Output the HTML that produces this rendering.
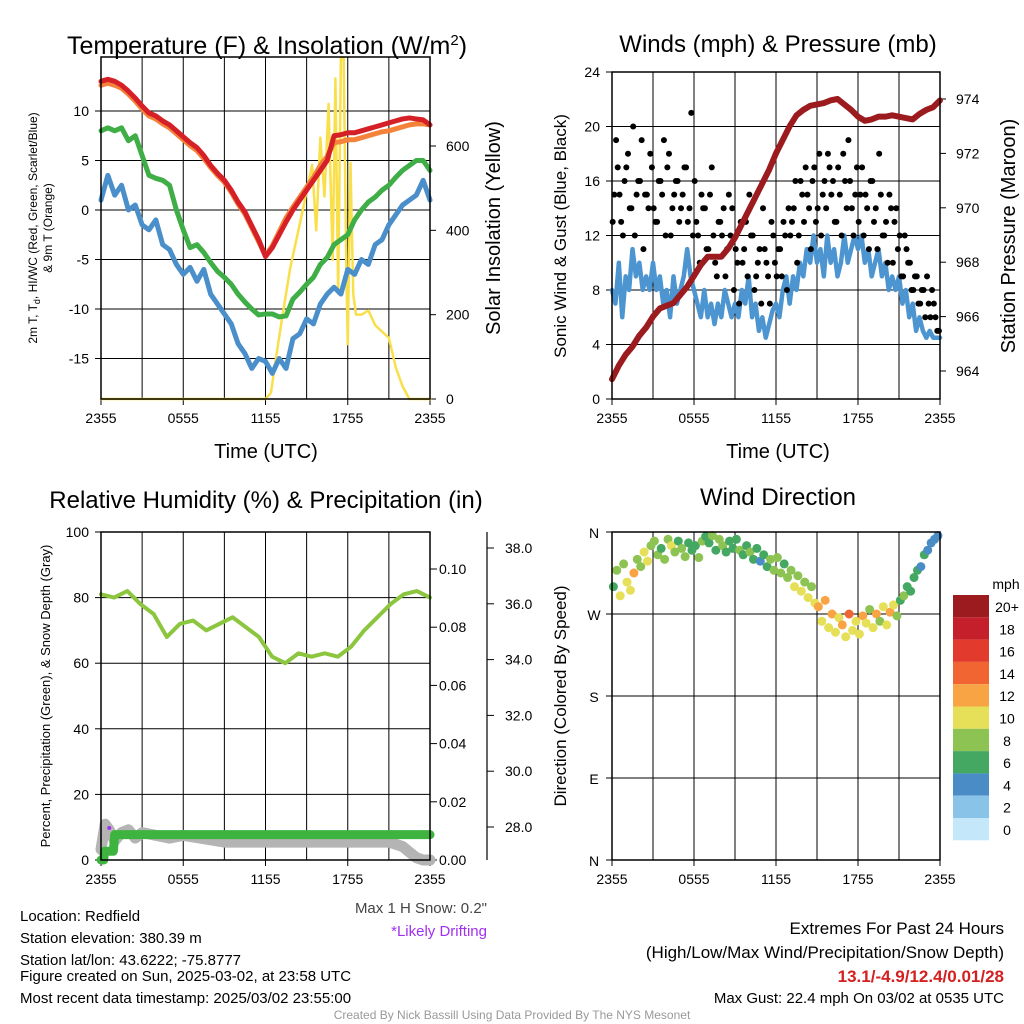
<!DOCTYPE html>
<html><head><meta charset="utf-8"><style>
body{margin:0;background:#fff;}
svg{display:block;font-family:"Liberation Sans",sans-serif;}
</style></head><body>
<svg id="c" width="1024" height="1024" viewBox="0 0 1024 1024">
<text x="267" y="54" font-size="25" text-anchor="middle">Temperature (F) &amp; Insolation (W/m<tspan dy="-9" font-size="15">2</tspan><tspan dy="9">)</tspan></text>
<text x="778" y="52" font-size="24" text-anchor="middle">Winds (mph) &amp; Pressure (mb)</text>
<text x="266" y="508" font-size="24" text-anchor="middle">Relative Humidity (%) &amp; Precipitation (in)</text>
<text x="778" y="505" font-size="24" text-anchor="middle">Wind Direction</text>
<text x="266" y="458" font-size="20" text-anchor="middle">Time (UTC)</text>
<text x="778" y="458" font-size="20" text-anchor="middle">Time (UTC)</text>
<text transform="translate(37,228) rotate(-90)" font-size="12" text-anchor="middle">2m T, T<tspan font-size="9" dy="3">d</tspan><tspan dy="-3">, HI/WC (Red, Green, Scarlet/Blue)</tspan></text>
<text transform="translate(52,228) rotate(-90)" font-size="12" text-anchor="middle">&amp; 9m T (Orange)</text>
<text transform="translate(500,228) rotate(-90)" font-size="20" text-anchor="middle">Solar Insolation (Yellow)</text>
<text transform="translate(566,236) rotate(-90)" font-size="17" text-anchor="middle">Sonic Wind &amp; Gust (Blue, Black)</text>
<text transform="translate(1015,236) rotate(-90)" font-size="20" text-anchor="middle">Station Pressure (Maroon)</text>
<text transform="translate(50,696) rotate(-90)" font-size="13" text-anchor="middle">Percent, Precipitation (Green), &amp; Snow Depth (Gray)</text>
<text transform="translate(566,696) rotate(-90)" font-size="17" text-anchor="middle">Direction (Colored By Speed)</text>
<g font-size="15">
<text x="20" y="921">Location: Redfield</text>
<text x="20" y="943">Station elevation: 380.39 m</text>
<text x="20" y="965">Station lat/lon: 43.6222; -75.8777</text>
<text x="20" y="981">Figure created on Sun, 2025-03-02, at 23:58 UTC</text>
<text x="20" y="1003">Most recent data timestamp: 2025/03/02 23:55:00</text>
</g>
<text x="487" y="913" font-size="15" fill="#444" text-anchor="end">Max 1 H Snow: 0.2"</text>
<text x="487" y="936" font-size="15" fill="#a030f0" text-anchor="end">*Likely Drifting</text>
<text x="1004" y="934" font-size="17" text-anchor="end">Extremes For Past 24 Hours</text>
<text x="1004" y="958" font-size="17" text-anchor="end">(High/Low/Max Wind/Precipitation/Snow Depth)</text>
<text x="1004" y="982" font-size="17" font-weight="bold" fill="#d42020" text-anchor="end">13.1/-4.9/12.4/0.01/28</text>
<text x="1004" y="1003" font-size="15" text-anchor="end">Max Gust: 22.4 mph On 03/02 at 0535 UTC</text>
<text x="512" y="1019" font-size="12" fill="#999" text-anchor="middle">Created By Nick Bassill Using Data Provided By The NYS Mesonet</text>
</svg>
<script>
// ---- data ----
const xTickLabels = ["2355","0555","1155","1755","2355"];
const tempT = [13,13.2,13,12.6,12,11.3,10.5,9.8,9.5,9.0,8.6,8.0,7.4,6.8,6.3,5.5,4.5,3.7,3.0,2.0,0.8,-0.2,-1.6,-3.0,-4.7,-3.8,-2.5,-1.2,0,1.0,2.0,3.0,4.0,5.0,7.5,7.6,7.8,7.8,8.0,8.2,8.4,8.6,8.8,9.0,9.2,9.3,9.2,9.1,8.6];
const temp9m = [12.6,12.8,12.6,12.3,11.7,11.0,10.2,9.5,9.2,8.7,8.3,7.7,7.1,6.5,6.0,5.2,4.3,3.5,2.8,1.8,0.6,-0.4,-1.8,-3.2,-4.6,-3.6,-2.2,-0.8,0.3,1.3,2.3,3.3,4.5,5.4,6.8,6.9,7.1,7.1,7.3,7.5,7.7,7.9,8.0,8.2,8.4,8.6,8.7,8.7,8.6];
const tempTd = [8,8.3,8.0,8.3,7.0,7.5,5.5,3.5,3.2,3.0,2.5,0,-2,-3.8,-3.5,-4.3,-5.3,-6.2,-6.8,-7.5,-8.5,-9.3,-10.0,-10.6,-10.5,-10.5,-10.8,-10.7,-9.0,-8.3,-7.5,-6.8,-5.5,-4.8,-3.5,-3.0,-2.5,-1.0,0,0.8,1.3,2.0,2.5,3.3,4.0,4.5,5.0,5.0,4.0];
const tempWC = [1,3.5,1.5,2.5,0,0.5,-1.5,-2.0,-1.0,-3.5,-4.0,-5.5,-6.5,-5.8,-7.2,-6.0,-8.5,-9.5,-10.5,-11.5,-13.5,-14.5,-16.0,-15.0,-15.3,-16.5,-15.0,-16.0,-13.0,-12.5,-11.0,-11.5,-9.5,-8.5,-7.8,-8.5,-6.0,-6.5,-5.0,-5.5,-3.5,-3.0,-1.5,-0.5,0.5,1.0,1.5,3.0,1.0];
const solarHours = [0,12,12.4,12.8,13.2,13.8,14.6,15.4,15.7,16,16.3,16.6,16.9,17.1,17.3,17.5,17.7,17.9,18.0,18.2,18.4,18.6,19,19.5,20,20.5,21,21.5,22,22.5,24];
const solarVals = [0,0,15,105,190,310,430,555,400,620,480,700,330,760,250,810,810,300,130,560,250,200,200,210,175,160,145,75,30,0,0];
const windSpd = [8,7,10,6,9,8,11,9,10,8,9,8,
 10,8,9,7,8,6,9,7,8,9,11,9,
 8,7,6,8,6,7,5.5,7,6,8,7,6,
 7,6,8,7,9,6,7,5,6,4.5,5.5,6.5,
 7,6,8,9,7,9,8,10,9,11,10,12,
 10,11,9,12,10,11,9,10,12,10,11,12,
 11,12,10,11,9,10,11,9,10,8,9,8,
 9,7,8,6,7,5,6,5,4.5,5,4.5,4.5,4.5];
const pressure = [963.7,964.2,964.6,964.9,965.3,965.6,966.0,966.3,966.4,966.5,966.8,967.1,967.5,967.9,968.2,968.2,968.2,968.5,968.9,969.4,969.9,970.4,970.9,971.4,972.0,972.5,973.0,973.4,973.6,973.75,973.8,973.85,973.95,974.0,973.8,973.6,973.35,973.2,973.25,973.35,973.35,973.4,973.35,973.3,973.25,973.45,973.6,973.7,973.95];
const gusts = [13,19,15,12,17,14,20,15,16,11,15,18,14,13,16,19,17,12,15,16,14,17,13,21,
 16,12,15,14,11,17,10,13,12,9,15,14,11,7,10,13,15,12,9,11,14,10,7,12,
 9,11,13,8,12,14,10,16,13,15,11,17,14,12,16,18,15,13,17,12,16,19,14,15,
 13,17,15,11,16,14,18,12,13,15,10,14,12,9,11,10,8,9,7,8,9,6,7,5];
const gusts2 = [15,17,13,16,18,14,12,16,19,15,14,17,13,16,15,12,18,14,16,13,15,17,14,12,
 13,10,14,11,15,12,9,13,14,11,12,8,10,13,11,9,12,8,10,7,11,9,13,10,
 11,9,12,14,13,16,12,15,17,14,16,13,18,15,14,17,16,13,15,18,14,16,12,17,
 15,12,14,16,13,11,15,12,10,14,13,11,9,12,10,8,9,7,8,6,7,8,6,5];
const rh = [81,80,82,78,75,68,72,73,70,72,74,71,68,62,60,63,62,63,62,65,70,74,78,81,82,80];
const precipHours = [0,0.2,0.25,0.9,1.0,24];
const precipVals = [0,0,0.003,0.003,0.0087,0.0087];
const snowHours = [0,0.3,0.6,1.0,1.5,2.0,2.5,3,5,6,9,12,18,21,22,22.5,23,23.5,24];
const snowVals = [27.2,28.1,27.9,27.5,27.8,27.9,27.6,27.8,27.6,27.7,27.46,27.46,27.46,27.46,27.3,27.1,26.9,26.8,26.8];
const dirDeg = [300,318,290,325,305,296,315,330,322,338,328,345,
 350,335,342,330,352,345,338,350,342,333,348,340,
 345,332,350,355,348,356,340,352,345,338,350,342,
 352,340,335,345,338,330,342,328,335,322,330,318,
 332,315,325,310,318,300,312,295,305,288,300,282,
 278,262,285,255,270,250,266,258,245,270,252,262,
 248,268,260,275,255,270,262,278,258,272,280,268,
 285,290,300,295,310,318,322,335,340,348,352,356];
const dirSpeed = [6,8,10,7,9,10,12,8,7,9,10,7,
 7,8,6,7,8,10,7,6,8,7,6,5,
 6,7,8,6,5,7,6,7,8,6,5,6,
 6,7,5,6,7,5,6,4,5,6,7,8,
 7,8,6,7,8,9,8,10,8,9,8,10,
 12,10,11,9,12,10,9,11,10,13,9,10,
 10,12,9,8,10,11,8,9,10,12,9,8,
 6,7,6,5,6,5,4,5,4,3,4,4];
const cbLabels = ["20+","18","16","14","12","10","8","6","4","2","0"];
const cbColors = ["#9b1b1e","#c41f2a","#e23a2d","#f06531","#f9a444","#e6df58","#8dc352","#45a862","#4a8dc6","#89c3e8","#c4e8fa"];
// ---- drawing ----
const S = document.getElementById('c');
const NS = "http://www.w3.org/2000/svg";
function mk(tag, attrs){const e=document.createElementNS(NS,tag);for(const k in attrs)e.setAttribute(k,attrs[k]);S.appendChild(e);return e;}
function lin(d0,d1,r0,r1){return v=>r0+(v-d0)/(d1-d0)*(r1-r0);}
function poly(xs, ys, color, w, name){
  const p=mk('polyline',{points:xs.map((x,i)=>x+','+ys[i]).join(' '),fill:'none',stroke:color,'stroke-width':w,'stroke-linejoin':'round','stroke-linecap':'round'});
  
  
  return p;
}
function txt(x,y,s,anchor,size,name){
  const t=mk('text',{x:x,y:y,'font-size':size,'text-anchor':anchor});t.textContent=s;
  
  
  return t;
}
function frame(x0,y0,x1,y1,name,hgrid){
  for(let i=1;i<8;i++){const x=x0+(x1-x0)*i/8;
    const l=mk('line',{x1:x,y1:y0,x2:x,y2:y1,stroke:'#000','stroke-width':1});
    
    }
  hgrid.forEach(y=>{const l=mk('line',{x1:x0,y1:y,x2:x1,y2:y,stroke:'#000','stroke-width':1});
    
    });
  xTickLabels.forEach((s,i)=>{const x=x0+(x1-x0)*i/4;
    mk('line',{x1:x,y1:y1,x2:x,y2:y1+6,stroke:'#000'});
    txt(x,y1+24,s,'middle',14,name+'-x-tick');});
}
function border(x0,y0,x1,y1,name){
  const r=mk('rect',{x:x0,y:y0,width:x1-x0,height:y1-y0,fill:'none',stroke:'#000','stroke-width':1.5});
  
  
}
const idx = (arr)=>arr.map((_,i)=>i*24/(arr.length-1));

// Panel 1
{const x0=101,x1=430,y0=57,y1=399;
 const X=lin(0,24,x0,x1), Y=lin(0,10,210,111), YS=lin(0,600,399,146);
 const ticks=[10,5,0,-5,-10,-15];
 frame(x0,y0,x1,y1,'temp',ticks.map(Y));
 ticks.forEach(v=>{mk('line',{x1:x0-6,y1:Y(v),x2:x0,y2:Y(v),stroke:'#000'});txt(x0-12,Y(v)+5,String(v),'end',14,'temp-y-tick');});
 [0,200,400,600].forEach(v=>{mk('line',{x1:x1,y1:YS(v),x2:x1+6,y2:YS(v),stroke:'#000'});txt(x1+16,YS(v)+5,String(v),'start',14,'solar-y-tick');});
 const h=idx(tempT);
 poly(solarHours.map(X),solarVals.map(YS),'#f9df4a',2.5,'solar-line');
 poly(h.map(X),tempWC.map(Y),'#4a8fca',5,'windchill-line');
 poly(h.map(X),tempTd.map(Y),'#3fae46',5,'dewpoint-line');
 poly(h.map(X),temp9m.map(Y),'#f5823a',5,'temp-9m-line');
 poly(h.map(X),tempT.map(Y),'#d62027',5,'temp-2m-line');
 border(x0,y0,x1,y1,'temp');}
// Panel 2
{const x0=612,x1=940,y0=72,y1=399;
 const X=lin(0,24,x0,x1), Y=lin(0,24,399,72), YP=lin(964,974,371,99);
 const ticks=[0,4,8,12,16,20,24];
 frame(x0,y0,x1,y1,'wind',ticks.map(Y));
 ticks.forEach(v=>{mk('line',{x1:x0-6,y1:Y(v),x2:x0,y2:Y(v),stroke:'#000'});txt(x0-12,Y(v)+5,String(v),'end',14,'wind-y-tick');});
 [964,966,968,970,972,974].forEach(v=>{mk('line',{x1:x1,y1:YP(v),x2:x1+6,y2:YP(v),stroke:'#000'});txt(x1+16,YP(v)+5,String(v),'start',14,'pressure-y-tick');});
 poly(idx(windSpd).map(X),windSpd.map(Y),'#4d95d0',4.5,'sonic-wind-line');
 const dot=(h,g)=>{const c=mk('circle',{cx:X(h),cy:Y(g),r:3,fill:'#000'});
   
   };
 gusts.forEach((g,i)=>dot(i*24/gusts.length+0.05,g));
 gusts2.forEach((g,i)=>dot(i*24/gusts2.length+0.17,g));
 poly(idx(pressure).map(X),pressure.map(YP),'#9b1b1e',6,'pressure-line');
 border(x0,y0,x1,y1,'wind');}
// Panel 3
{const x0=101,x1=430,y0=532,y1=860;
 const X=lin(0,24,x0,x1), Y=lin(0,100,860,532), YPr=lin(0,0.1,860,569), YSn=lin(28,38,827,548);
 const ticks=[0,20,40,60,80,100];
 frame(x0,y0,x1,y1,'rh',ticks.slice(1,5).map(Y));
 ticks.forEach(v=>{mk('line',{x1:x0-6,y1:Y(v),x2:x0,y2:Y(v),stroke:'#000'});txt(x0-12,Y(v)+5,String(v),'end',14,'rh-y-tick');});
 ["0.00","0.02","0.04","0.06","0.08","0.10"].forEach(s=>{const v=parseFloat(s);mk('line',{x1:x1,y1:YPr(v),x2:x1+7,y2:YPr(v),stroke:'#000'});txt(x1+9,YPr(v)+5,s,'start',14,'precip-y-tick');});
 const sl=mk('line',{x1:487,y1:532,x2:487,y2:860,stroke:'#000','stroke-width':1.2});
 
 
 ["28.0","30.0","32.0","34.0","36.0","38.0"].forEach(s=>{const v=parseFloat(s);mk('line',{x1:487,y1:YSn(v),x2:494,y2:YSn(v),stroke:'#000'});txt(505,YSn(v)+5,s,'start',14,'snow-y-tick');});
 poly(snowHours.map(X),snowVals.map(v=>Math.min(860,YSn(v))),'#b4b4b4',11,'snow-depth-line');
 poly(precipHours.map(X),precipVals.map(YPr),'#3fb33f',9,'precip-line');
 const pm=mk('circle',{cx:X(0.6),cy:828,r:2,fill:'#a030f0'});
 
 
 poly(idx(rh).map(X),rh.map(Y),'#8cc63f',4,'rh-line');
 border(x0,y0,x1,y1,'rh');}
// Panel 4
{const x0=612,x1=940,y0=532,y1=860;
 const X=lin(0,24,x0,x1), Y=lin(0,360,860,532);
 const labs=[["N",360],["W",270],["S",180],["E",90],["N",0]];
 frame(x0,y0,x1,y1,'dir',[270,180,90].map(Y));
 labs.forEach(([s,v])=>{mk('line',{x1:x0-6,y1:Y(v),x2:x0,y2:Y(v),stroke:'#000'});txt(x0-18,Y(v)+6,s,'middle',14,'dir-y-tick');});
 const dh=dirDeg.map((_,i)=>i*24/dirDeg.length+0.1);
 dirDeg.forEach((d,i)=>{const k=Math.max(0,Math.min(10,10-Math.round(dirSpeed[i]/2)));
   const c=mk('circle',{cx:X(dh[i]),cy:Y(d),r:4.5,fill:cbColors[k]});
   
   });
 border(x0,y0,x1,y1,'dir');
 txt(1006,589,'mph','middle',14,'colorbar-title');
 cbColors.forEach((c,i)=>{const r=mk('rect',{x:953,y:595+i*22.3,width:36,height:22.3,fill:c});
   
   
   txt(1007,595+i*22.3+17,cbLabels[i],'middle',14,'colorbar-label');});}
</script>
</body></html>
